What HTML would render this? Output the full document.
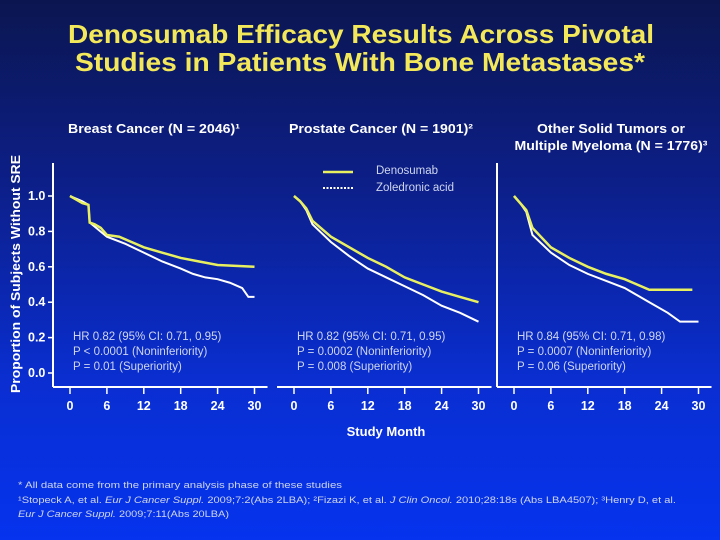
<!DOCTYPE html>
<html><head><meta charset="utf-8"><style>
html,body{margin:0;padding:0}
body{width:720px;height:540px;overflow:hidden;background:linear-gradient(180deg,#0b1650 0%,#0c1f8a 35%,#0a2ed0 70%,#0533ee 100%);font-family:"Liberation Sans",sans-serif}
svg{display:block}
</style></head><body>
<svg id="chart" width="720" height="540" xmlns="http://www.w3.org/2000/svg" font-family="Liberation Sans, sans-serif">
<text x="68" y="43" fill="#f2e85a" font-size="26" font-weight="bold" textLength="586" lengthAdjust="spacingAndGlyphs">Denosumab Efficacy Results Across Pivotal</text>
<text x="75" y="71" fill="#f2e85a" font-size="26" font-weight="bold" textLength="570" lengthAdjust="spacingAndGlyphs">Studies in Patients With Bone Metastases*</text>
<text transform="translate(20,274) rotate(-90)" fill="#fff" font-size="13" font-weight="bold" text-anchor="middle" textLength="238" lengthAdjust="spacingAndGlyphs">Proportion of Subjects Without SRE</text>
<text x="386" y="436" fill="#fff" font-size="13" font-weight="bold" text-anchor="middle">Study Month</text>
<g id="panels"></g>
<g>
<line x1="323" y1="172" x2="353" y2="172" stroke="#e8f060" stroke-width="2.5"/>
<line x1="323" y1="188" x2="353" y2="188" stroke="#fff" stroke-width="2" stroke-dasharray="2,1.5"/>
<text x="376" y="174" fill="#cfd6ee" font-size="11.5">Denosumab</text>
<text x="376" y="191" fill="#cfd6ee" font-size="11.5">Zoledronic acid</text>
</g>
<g fill="#cfd6ee" font-size="9.5">
<text x="18" y="488" textLength="324" lengthAdjust="spacingAndGlyphs">* All data come from the primary analysis phase of these studies</text>
<text x="18" y="503" textLength="658" lengthAdjust="spacingAndGlyphs">¹Stopeck A, et al. <tspan font-style="italic">Eur J Cancer Suppl.</tspan> 2009;7:2(Abs 2LBA); ²Fizazi K, et al. <tspan font-style="italic">J Clin Oncol.</tspan> 2010;28:18s (Abs LBA4507); ³Henry D, et al.</text>
<text x="18" y="517" textLength="211" lengthAdjust="spacingAndGlyphs"><tspan font-style="italic">Eur J Cancer Suppl.</tspan> 2009;7:11(Abs 20LBA)</text>
</g>
</svg>
<script>
const months=[0,6,12,18,24,30];
const yTicks=[0,0.2,0.4,0.6,0.8,1.0];
const titles=[["Breast Cancer (N = 2046)¹"],["Prostate Cancer (N = 1901)²"],["Other Solid Tumors or","Multiple Myeloma (N = 1776)³"]];
const titleLens=[[172],[184],[148,193]];
const stats=[["HR 0.82 (95% CI: 0.71, 0.95)","P < 0.0001 (Noninferiority)","P = 0.01 (Superiority)"],["HR 0.82 (95% CI: 0.71, 0.95)","P = 0.0002 (Noninferiority)","P = 0.008 (Superiority)"],["HR 0.84 (95% CI: 0.71, 0.98)","P = 0.0007 (Noninferiority)","P = 0.06 (Superiority)"]];
const breastT=[0,1,2,3,3.2,4,5,6,8,10,12,15,18,21,24,30];
const breastDen=[1.0,0.98,0.96,0.95,0.85,0.84,0.82,0.78,0.77,0.74,0.71,0.68,0.65,0.63,0.61,0.60];
const breastZolT=[0,2,3,3.2,6,9,12,15,18,20,22,24,26,28,29,30];
const breastZol=[1.0,0.97,0.95,0.85,0.77,0.73,0.68,0.63,0.59,0.56,0.54,0.53,0.51,0.48,0.43,0.43];
const prosT=[0,1,2,3,6,9,12,15,18,21,24,27,30];
const prosDen=[1.0,0.97,0.93,0.86,0.77,0.71,0.65,0.60,0.54,0.50,0.46,0.43,0.40];
const prosZol=[1.0,0.97,0.92,0.84,0.74,0.66,0.59,0.54,0.49,0.44,0.38,0.34,0.29];
const othT=[0,1,2,3,6,9,12,15,18,20,22,25,27,29];
const othDen=[1.0,0.96,0.92,0.82,0.71,0.65,0.60,0.56,0.53,0.50,0.47,0.47,0.47,0.47];
const othZolT=[0,1,2,3,6,9,12,15,18,20,22,25,27,30];
const othZol=[1.0,0.96,0.91,0.78,0.68,0.61,0.56,0.52,0.48,0.44,0.40,0.34,0.29,0.29];
const series=[[breastT,breastDen,breastZolT,breastZol],[prosT,prosDen,prosT,prosZol],[othT,othDen,othZolT,othZol]];
const panelX0=[70,294,514], panelW=184.5;
const NS="http://www.w3.org/2000/svg";
const root=document.getElementById('panels');
function yS(v){return 373-v*177;}
function mk(tag,attrs,parent){const e=document.createElementNS(NS,tag);for(const k in attrs)e.setAttribute(k,attrs[k]);parent.appendChild(e);return e;}
function path(ts,vs,xS){let d="M"+xS(ts[0])+","+yS(vs[0]);for(let i=1;i<ts.length;i++){d+=" L"+xS(ts[i])+","+yS(vs[i]);}return d;}
for(let p=0;p<3;p++){
  const x0=panelX0[p];const xS=t=>x0+t/30*panelW;
  const g=mk('g',{},root);
  
  
  titles[p].forEach((t,i)=>{const tx=mk('text',{x:p==2?611:(p==0?154:381),y:133+i*17,fill:'#fff','font-size':13,'font-weight':'bold','text-anchor':'middle',textLength:titleLens[p][i],lengthAdjust:'spacingAndGlyphs'},g);tx.textContent=t;});
  const ax=mk('line',{x1:x0-17,y1:387,x2:x0+panelW+13,y2:387,stroke:'#fff','stroke-width':2},g);
  
  if(p!=1){const ay=mk('line',{x1:x0-17,y1:163,x2:x0-17,y2:387,stroke:'#fff','stroke-width':2},g);}
  months.forEach(m=>{mk('line',{x1:xS(m),y1:387,x2:xS(m),y2:394,stroke:'#fff','stroke-width':1.5},g);const t=mk('text',{x:xS(m),y:410,fill:'#fff','font-size':12.5,'font-weight':'bold','text-anchor':'middle'},g);t.textContent=m;});
  if(p==0){yTicks.forEach(v=>{mk('line',{x1:x0-17,y1:yS(v),x2:x0-22,y2:yS(v),stroke:'#fff','stroke-width':1.5},g);const t=mk('text',{x:28,y:yS(v)+4,fill:'#fff','font-size':12.5,'font-weight':'bold'},g);t.textContent=v.toFixed(1);});}
  const s=series[p];
  const z=mk('path',{d:path(s[2],s[3],xS),fill:'none',stroke:'#fff','stroke-width':2},g);
  
  const d=mk('path',{d:path(s[0],s[1],xS),fill:'none',stroke:'#e8f060','stroke-width':2.5},g);
  
  stats[p].forEach((t,i)=>{const tx=mk('text',{x:x0+3,y:340+i*15,fill:'#cfd6ee','font-size':11.5},g);tx.textContent=t;});
}
</script>
</body></html>
